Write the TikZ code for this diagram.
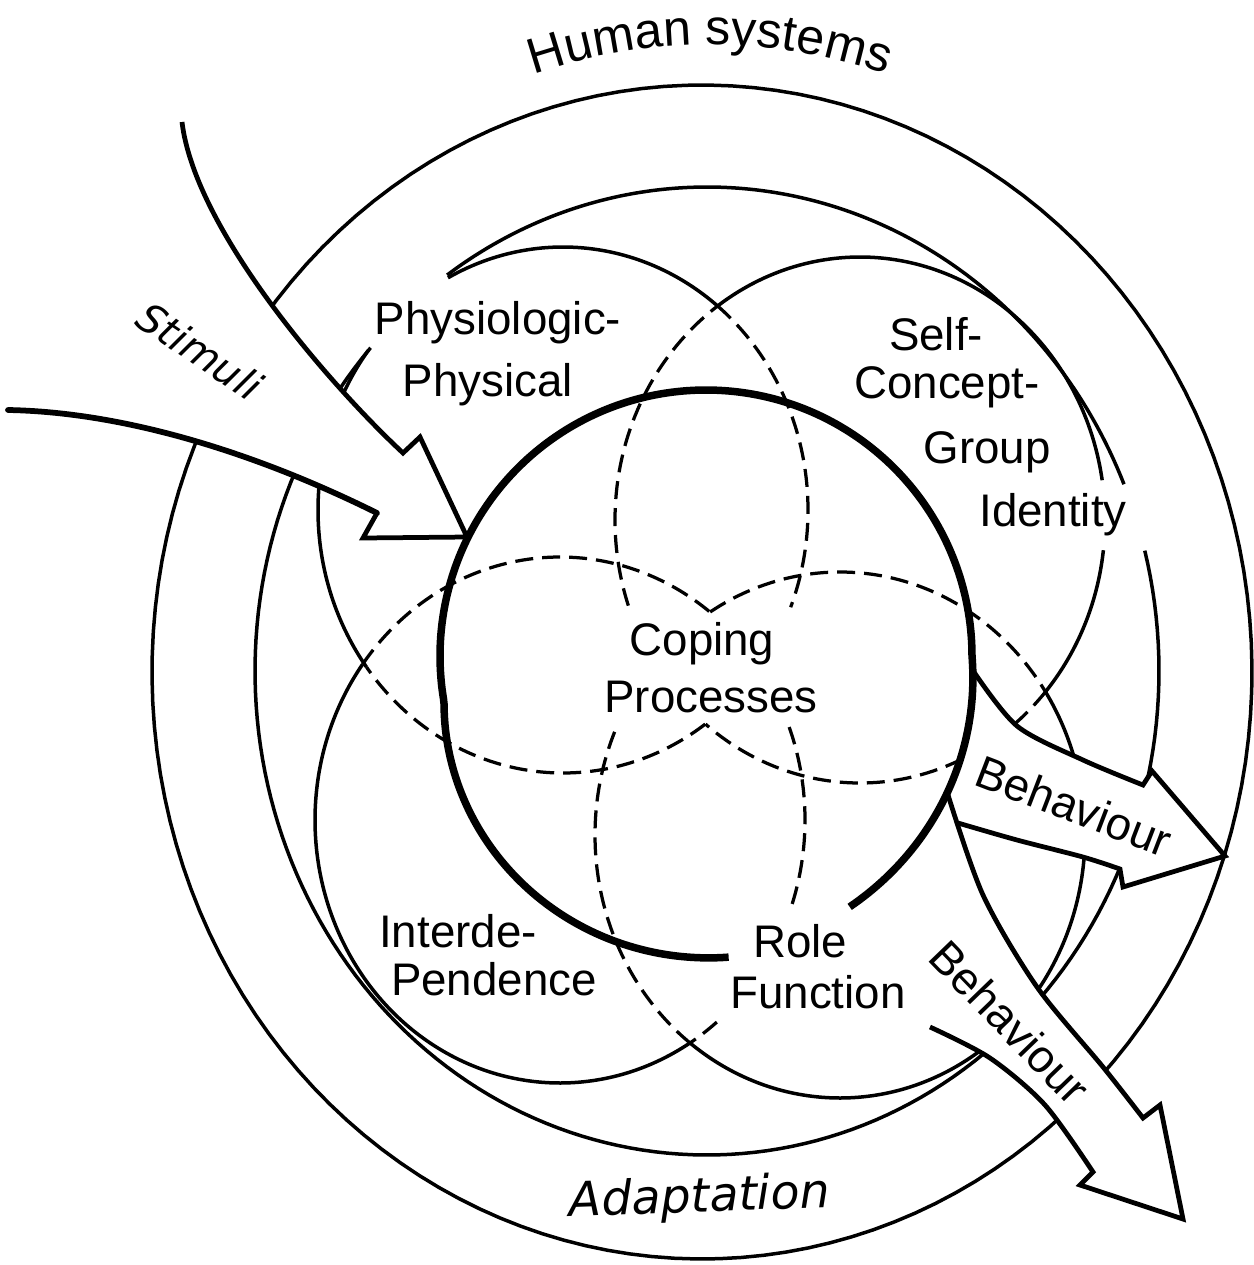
\documentclass[tikz,border=0pt]{standalone}
\usepackage{fontspec}
\newfontfamily\lab{Liberation Sans}
\newfontfamily\obl{DejaVu Sans}
\usetikzlibrary{decorations.text}
\tikzset{
  ellarc/.style n args={6}{insert path={plot[domain=#5:#6,samples=150,variable=\t]({#1+#3*cos(\t)},{#2+#4*sin(\t)})}},
  thinln/.style={line width=0.07cm, line join=round},
  dashln/.style={line width=0.065cm, dash pattern=on 0.36cm off 0.18cm},
  thickln/.style={line width=0.15cm, line join=round},
  arrln/.style={line width=0.095cm, line join=miter},
  lbl/.style={font=\lab\fontsize{26}{30}\selectfont, inner sep=0pt, anchor=base},
}
\begin{document}
\begin{tikzpicture}[x=0.02cm,y=-0.02cm]
\fill[white] (0,0) rectangle (1254,1265);
\useasboundingbox (0,0) rectangle (1254,1265);

% ---- outer rings ----
\draw[thinln, ellarc={702}{672}{550}{587}{217}{565}];
\draw[thinln, ellarc={707}{671}{452}{484}{234.9}{337.3}];
\draw[thinln, ellarc={707}{671}{452}{484}{345.6}{581.9}];

% ---- lobes, solid parts ----
\draw[thinln, ellarc={563}{510}{245}{263}{242}{309.1}];
\draw[thinln, ellarc={563}{510}{245}{263}{143.3}{217.4}];
\draw[thinln, ellarc={860}{520}{245}{263}{234.5}{351.3}];
\draw[thinln, ellarc={860}{520}{245}{263}{366.6}{400.8}];
\draw[thinln, ellarc={560}{820}{245}{263}{58}{216.3}];
\draw[thinln, ellarc={840}{835}{245}{263}{-33}{127.7}];

% ---- lobes, dashed parts ----
\draw[dashln, ellarc={563}{510}{245}{263}{54.5}{143.3}];
\draw[dashln, ellarc={563}{510}{245}{263}{-50.9}{21.7}];
\draw[dashln, ellarc={860}{520}{245}{263}{161}{234.5}];
\draw[dashln, ellarc={860}{520}{245}{263}{40.8}{129.1}];
\draw[dashln, ellarc={560}{820}{245}{263}{216.3}{307.7}];
\draw[dashln, ellarc={560}{820}{245}{263}{339.3}{378.9}];
\draw[dashln, ellarc={560}{820}{245}{263}{410.2}{418}];
\draw[dashln, ellarc={840}{835}{245}{263}{127.7}{205}];
\draw[dashln, ellarc={840}{835}{245}{263}{238}{327}];

% ---- key points ----
% Stimuli
\coordinate (S0) at (182,122);
\coordinate (S5) at (403,453);
\coordinate (SB1) at (420,437);
\coordinate (ST) at (467,537);
\coordinate (SB2) at (363,538);
\coordinate (S6) at (377,513);
\coordinate (S10) at (8,410);
% upper Behaviour
\coordinate (U0) at (972.6,670);
\coordinate (U1) at (1017,726);
\coordinate (U2) at (1083,760);
\coordinate (U3) at (1143,785);
\coordinate (U4) at (1152,771);
\coordinate (UT) at (1225,856);
\coordinate (U5) at (1123,887);
\coordinate (U6) at (1120,869);
\coordinate (U7) at (1083,857);
\coordinate (U8) at (1017,840);
\coordinate (U9) at (958,823);
\coordinate (UM) at (968.5,726.3);
% lower Behaviour
\coordinate (L0) at (947.3,792.6);
\coordinate (L1) at (983,895);
\coordinate (L2) at (1037,987);
\coordinate (L3) at (1103,1067);
\coordinate (L4) at (1143,1118);
\coordinate (L5) at (1160,1105);
\coordinate (LT) at (1183,1219);
\coordinate (L6) at (1080,1185);
\coordinate (L7) at (1093,1172);
\coordinate (L8) at (1045,1105);
\coordinate (L9) at (990,1058);
\coordinate (L10) at (930,1027);
\coordinate (LQ) at (880,960);
\coordinate (LE) at (850.5,906.3);
\coordinate (LM1) at (889.3,874.5);
\coordinate (LM2) at (921.5,836.8);

% ---- arrow fills ----
\fill[white] (S0) .. controls (195,230) and (330,385) .. (S5) -- (SB1) -- (ST) -- (SB2) -- (S6) .. controls (250,450) and (120,412) .. (S10) -- cycle;
\fill[white] plot[smooth] coordinates {(U0) (U1) (U2) (U3)} -- (U4) -- (UT) -- (U5) -- (U6) -- plot[smooth] coordinates {(U6) (U7) (U8) (U9)} -- (L0) -- (UM) -- cycle;
\fill[white] plot[smooth] coordinates {(L0) (L1) (L2) (L3) (L4)} -- (L5) -- (LT) -- (L6) -- (L7) -- plot[smooth] coordinates {(L7) (L8) (L9) (L10)} -- (LQ) -- (LE) -- (LM1) -- (LM2) -- cycle;

% ---- arrow outlines ----
\draw[line width=0.095cm, line join=miter] (S0) .. controls (195,230) and (330,385) .. (S5) -- (SB1) -- (ST) -- (SB2) -- (S6);
\draw[line width=0.115cm, line cap=round] (S6) .. controls (250,450) and (120,412) .. (S10);
\draw[arrln] plot[smooth] coordinates {(U0) (U1) (U2) (U3)} -- (U4) -- (UT) -- (U5) -- (U6) -- plot[smooth] coordinates {(U6) (U7) (U8) (U9)};
\draw[arrln] plot[smooth] coordinates {(L0) (L1) (L2) (L3) (L4)} -- (L5) -- (LT) -- (L6) -- (L7) -- plot[smooth] coordinates {(L7) (L8) (L9) (L10)};

% ---- coping processes spiral ----
\draw[thickln] plot[domain=85.7:420.2, samples=300, variable=\t]
 ({706+(266+36*max(0,1-((\t-85)/85)^2)+23*max(0,(\t-360)/60))*cos(\t)},
  {656+(266+36*max(0,1-((\t-85)/85)^2)+23*max(0,(\t-360)/60))*sin(\t)});

% ---- labels ----
\node[lbl] (tP1) at (498,334) {Physiologic-};
\node[lbl] (tP2) at (488,396) {Physical};
\node[lbl] (tS1) at (936,350) {Self-};
\node[lbl] (tS2) at (947,398) {Concept-};
\node[lbl] (tS3) at (987,463) {Group};
\node[lbl] (tS4) at (1053,526) {Identity};
\node[lbl] (tC1) at (702,655) {Coping};
\node[lbl] (tC2) at (711,712) {Processes};
\node[lbl] (tI1) at (458,947) {Interde-};
\node[lbl] (tI2) at (494,995) {Pendence};
\node[lbl] (tR1) at (800,957) {Role};
\node[lbl] (tR2) at (818,1008) {Function};
\node[lbl, anchor=center, rotate=-21] (tB1) at (1074,806) {Behaviour};
\node[lbl, anchor=center, rotate=-46] (tB2) at (1010,1022) {Behaviour};
\node[font=\obl\itshape\fontsize{23}{26}\selectfont, inner sep=0pt, rotate=-34] (tSt) at (200,351) {Stimuli};
\node[font=\obl\itshape\fontsize{27}{30}\selectfont, inner sep=0pt, anchor=base, rotate=2] (tAd) at (700,1212) {Adaptation};
\path[decorate, decoration={text along path, text={|\lab\fontsize{28.5}{32}\selectfont|Human systems}, text align=center}]
  plot[domain=235:305, samples=100, variable=\t] ({710+545*cos(\t)},{590+545*sin(\t)});
\end{tikzpicture}
\end{document}
